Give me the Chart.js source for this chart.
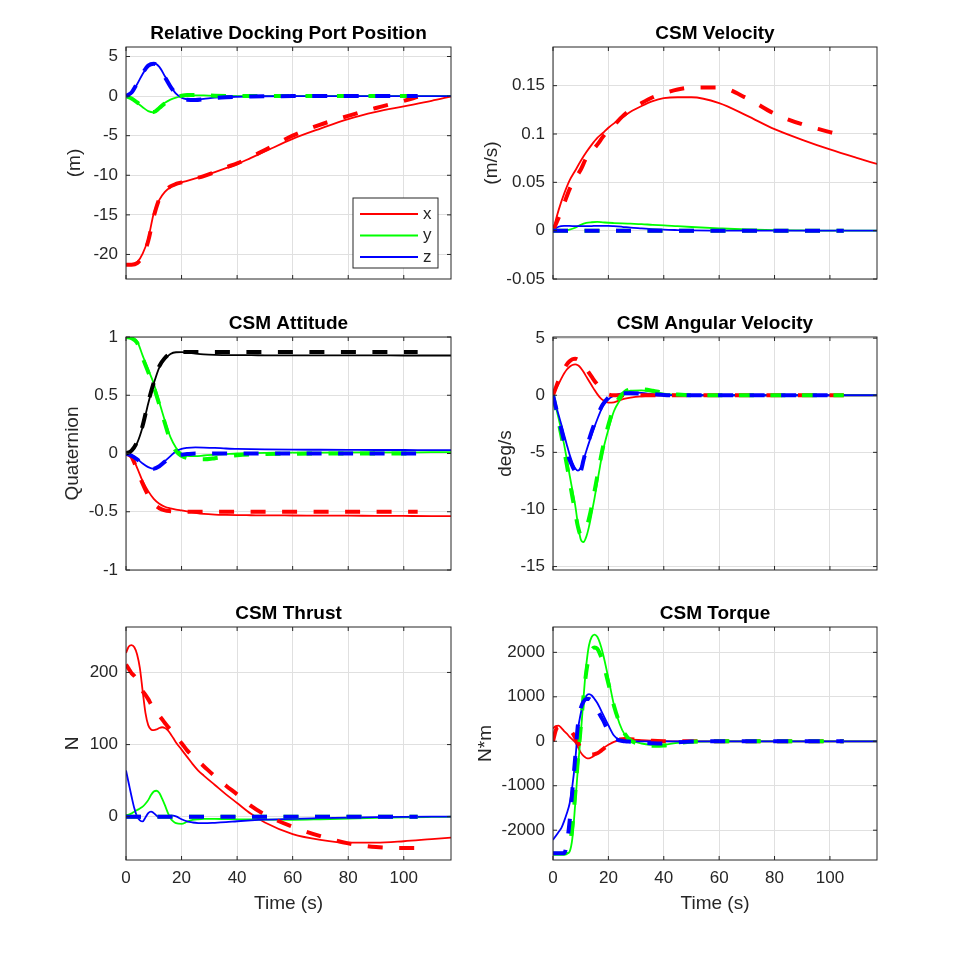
<!DOCTYPE html>
<html>
<head>
<meta charset="utf-8">
<script src="https://cdn.jsdelivr.net/npm/chart.js@4.4.1/dist/chart.umd.min.js"></script>
<style>
body{margin:0;background:#fff}
#wrap{position:relative;width:969px;height:967px;overflow:hidden}
</style>
</head>
<body>
<div id="wrap"></div>
<script>
// time bases (s): solid runs to 117, dashed runs to 105
var tS=[0,2,4,6,8,10,12,14,16,18,20,22,25,28,32,36,40,45,50,60,70,80,90,100,110,117]
var tD=[0,2,4,6,8,10,12,14,16,18,20,22,25,28,32,36,40,45,50,60,70,80,90,100,105]
var tF=[0,1,2,3,4,5,6,7,8,9,10,11,12,13,14,15,16,17,18,20,22,24,26,28,32,36,40,45,50,60,70,80,90,100,110,117]
var tFD=[0,1,2,3,4,5,6,7,8,9,10,11,12,13,14,15,16,17,18,20,22,24,26,28,32,36,40,45,50,60,70,80,90,100,105]
var xTicks=[0,20,40,60,80,100]

// Relative Docking Port Position (m)
var posX=[-21.3,-21.3,-21.0,-19.9,-18.0,-14.8,-13.1,-12.1,-11.5,-11.2,-10.9,-10.7,-10.4,-10.1,-9.6,-9.1,-8.6,-7.8,-7.0,-5.4,-4.1,-2.9,-2.0,-1.3,-0.6,-0.05]
var posY=[0,-0.35,-0.85,-1.4,-1.9,-2.05,-1.4,-0.85,-0.45,-0.2,-0.05,0.05,0.1,0.08,0.04,0.02,0,0,0,0,0,0,0,0,0,0]
var posZ=[0,0.4,1.5,2.8,3.8,4.15,3.7,2.5,1.3,0.3,-0.2,-0.4,-0.45,-0.35,-0.2,-0.12,-0.08,-0.05,-0.02,0,0,0,0,0,0,0]
var posXd=[-21.3,-21.3,-21.1,-20.2,-18.3,-15.2,-13.0,-12.0,-11.4,-11.1,-10.9,-10.7,-10.4,-10.1,-9.6,-9.0,-8.5,-7.7,-6.8,-5.0,-3.6,-2.5,-1.5,-0.6,-0.1]
var posYd=[0,-0.3,-0.8,-1.35,-1.85,-2.0,-1.5,-0.9,-0.45,-0.15,0.05,0.15,0.15,0.1,0.05,0.02,0,0,0,0,0,0,0,0,0]
var posZd=[0,0.45,1.6,2.9,3.85,4.1,3.6,2.4,1.2,0.3,-0.25,-0.45,-0.5,-0.4,-0.25,-0.15,-0.08,-0.04,-0.02,0,0,0,0,0,0]
var posTicks=[-20,-15,-10,-5,0,5]

// CSM Velocity (m/s)
var velX=[0,0.021,0.038,0.052,0.062,0.072,0.081,0.089,0.096,0.101,0.1065,0.111,0.117,0.123,0.129,0.134,0.137,0.138,0.138,0.132,0.119,0.105,0.094,0.084,0.075,0.069]
var velY=[0,0,0,0.001,0.003,0.006,0.008,0.0087,0.009,0.0086,0.0082,0.0079,0.0075,0.0072,0.0068,0.006,0.0055,0.0046,0.0038,0.0024,0.0012,0.0005,0.0002,0,0,0]
var velZ=[0,0.004,0.005,0.0049,0.0047,0.0046,0.0046,0.0048,0.005,0.005,0.005,0.0047,0.004,0.0032,0.0024,0.0016,0.001,0.0006,0.0003,0.0001,0,0,0,0,0,0]
var velXd=[0,0.013,0.028,0.043,0.054,0.063,0.075,0.082,0.089,0.097,0.104,0.109,0.118,0.125,0.132,0.138,0.142,0.146,0.148,0.148,0.137,0.121,0.11,0.102,0.098]
var velYd=[0,0,0,0,0,0,0,0,0,0,0,0,0,0,0,0,0,0,0,0,0,0,0,0,0]
var velZd=[0,0,0,0,0,0,0,0,0,0,0,0,0,0,0,0,0,0,0,0,0,0,0,0,0]
var velTicks=[-0.05,0,0.05,0.1,0.15]

// CSM Attitude (quaternion)
var attX=[0,-0.023,-0.123,-0.237,-0.323,-0.389,-0.431,-0.457,-0.471,-0.481,-0.489,-0.497,-0.509,-0.518,-0.524,-0.527,-0.529,-0.53,-0.531,-0.532,-0.533,-0.534,-0.535,-0.536,-0.537,-0.537]
var attY=[1,0.994,0.963,0.84,0.72,0.6,0.44,0.28,0.14,0.05,0,-0.02,-0.023,-0.017,-0.01,-0.005,0,0.003,0.005,0.007,0.008,0.009,0.01,0.01,0.011,0.011]
var attZ=[0,-0.014,-0.046,-0.086,-0.117,-0.131,-0.109,-0.066,-0.023,0.02,0.04,0.048,0.052,0.051,0.048,0.043,0.04,0.037,0.035,0.033,0.032,0.031,0.03,0.03,0.029,0.029]
var attW=[0,0.02,0.09,0.23,0.43,0.6,0.74,0.81,0.854,0.869,0.87,0.866,0.857,0.85,0.846,0.845,0.844,0.844,0.843,0.843,0.842,0.842,0.842,0.841,0.841,0.841]
var attXd=[0,-0.03,-0.14,-0.26,-0.36,-0.43,-0.47,-0.488,-0.495,-0.499,-0.5,-0.5,-0.5,-0.5,-0.5,-0.5,-0.5,-0.5,-0.5,-0.5,-0.5,-0.5,-0.5,-0.5,-0.5]
var attYd=[1,0.99,0.95,0.82,0.7,0.57,0.42,0.26,0.11,0.02,-0.02,-0.04,-0.05,-0.05,-0.04,-0.025,-0.015,-0.008,-0.005,-0.002,0,0,0,0,0]
var attZd=[0,-0.02,-0.05,-0.09,-0.12,-0.13,-0.11,-0.07,-0.035,-0.015,-0.01,-0.005,0,0,0,0,0,0,0,0,0,0,0,0,0]
var attWd=[0,0.025,0.1,0.24,0.44,0.61,0.75,0.82,0.86,0.87,0.871,0.871,0.871,0.871,0.871,0.871,0.871,0.871,0.871,0.871,0.871,0.871,0.871,0.871,0.871]
var attTicks=[-1,-0.5,0,0.5,1]

// CSM Angular Velocity (deg/s)
var angX=[0,0.5,0.97,1.45,1.9,2.25,2.5,2.65,2.7,2.62,2.4,2.05,1.65,1.25,0.85,0.45,0.1,-0.2,-0.42,-0.65,-0.62,-0.45,-0.3,-0.2,-0.09,-0.04,-0.01,0,0,0,0,0,0,0,0,0]
var angY=[0,-1.0,-2.0,-3.1,-4.3,-5.6,-7.0,-8.3,-9.6,-11.3,-12.6,-12.85,-12.4,-11.5,-10.3,-9.0,-7.6,-6.2,-4.9,-3.0,-1.4,-0.5,0.15,0.4,0.42,0.3,0.15,0.04,0,0,0,0,0,0,0,0]
var angZ=[0,-0.85,-1.7,-2.55,-3.45,-4.35,-5.2,-5.9,-6.4,-6.6,-6.35,-5.7,-4.9,-4.15,-3.45,-2.75,-2.1,-1.5,-0.95,-0.35,-0.05,0.12,0.2,0.25,0.2,0.1,0.03,0,0,0,0,0,0,0,0,0]
var angXd=[0,0.65,1.3,1.85,2.3,2.7,2.98,3.15,3.2,3.12,2.9,2.6,2.3,1.95,1.6,1.25,0.95,0.65,0.4,0.08,0,0,0,0,0,0,0,0,0,0,0,0,0,0,0]
var angYd=[0,-1.1,-2.3,-3.5,-4.8,-6.1,-7.5,-8.9,-10.2,-11.5,-12.2,-12.1,-11.6,-10.8,-9.7,-8.4,-7.1,-5.8,-4.6,-2.6,-1.1,-0.2,0.3,0.5,0.52,0.4,0.2,0.06,0,0,0,0,0,0,0]
var angZd=[0,-1.0,-2.0,-3.0,-4.0,-4.9,-5.65,-6.2,-6.7,-7.2,-6.7,-5.7,-4.75,-3.9,-3.15,-2.45,-1.8,-1.25,-0.8,-0.2,0.08,0.15,0.18,0.18,0.15,0.1,0.03,0,0,0,0,0,0,0,0]
var angTicks=[-15,-10,-5,0,5]

// CSM Thrust (N)
var thrX=[227,236,238,235,225,206,174,144,127,121,120,121,123,124,123,120,115,109,103,93,83,73,64,57,44,31,19,4,-8,-24,-32,-36,-36,-34,-31,-29]
var thrY=[2.3,3,4.6,7,9.3,11.5,14,18,23,30,35,36,33,25,16,6,-2,-6.5,-9,-10,-7,-4.5,-3.5,-3,-3,-3.3,-3.6,-3.8,-4,-4.2,-3.5,-2.5,-1.5,-0.8,-0.3,0]
var thrZ=[64,46,28,11.6,0,-5,-6.5,-1,5,7,5,1.5,-1,-0.5,0,1,1.4,1.4,0.5,-3.5,-6.5,-8,-8.8,-9,-8.4,-7.5,-6.3,-5,-4,-3,-2,-1.2,-0.6,-0.2,0,0]
var thrXd=[211,205,199,195,190,182,174,169,163,156,150,145,140,135,130,125,121,116,111,102,92,84,77,70,56,43,31,15,3,-14,-27,-37,-42,-43.5,-43.5]
var thrYd=[0,0,0,0,0,0,0,0,0,0,0,0,0,0,0,0,0,0,0,0,0,0,0,0,0,0,0,0,0,0,0,0,0,0,0]
var thrZd=[0,0,0,0,0,0,0,0,0,0,0,0,0,0,0,0,0,0,0,0,0,0,0,0,0,0,0,0,0,0,0,0,0,0,0]
var thrTicks=[0,100,200]

// CSM Torque (N*m)
var torX=[290,340,350,300,230,170,100,40,-20,-130,-250,-330,-375,-385,-360,-320,-275,-220,-165,-80,-15,20,35,35,25,12,5,0,0,0,0,0,0,0,0,0]
var torY=[-2530,-2530,-2530,-2530,-2530,-2525,-2480,-2180,-1430,-600,140,960,1700,2160,2350,2400,2350,2200,1980,1420,820,400,140,30,-50,-80,-75,-35,-10,0,0,0,0,0,0,0]
var torZ=[-2217,-2130,-2040,-1955,-1800,-1620,-1400,-1000,-450,250,620,880,1020,1060,1030,950,860,740,610,360,130,30,5,0,0,0,0,0,0,0,0,0,0,0,0,0]
var torXd=[0,250,320,300,290,290,260,190,80,-40,-150,-230,-280,-300,-300,-290,-270,-230,-180,-80,0,40,50,45,25,10,3,0,0,0,0,0,0,0,0]
var torYd=[-2530,-2530,-2530,-2530,-2530,-2500,-2350,-1900,-1200,-400,300,1000,1550,1900,2060,2110,2080,1960,1780,1300,800,420,160,20,-70,-100,-95,-40,-10,0,0,0,0,0,0]
var torZd=[-2520,-2520,-2520,-2520,-2520,-2300,-1800,-1100,-380,370,740,890,950,950,905,810,700,590,480,230,80,20,0,-10,-30,-45,-50,-25,-5,0,0,0,0,0,0]
var torTicks=[-2000,-1000,0,1000,2000]

var RED='#ff0000', GREEN='#00ff00', BLUE='#0000ff', BLACK='#000000'
var F='"Liberation Sans", Arial, Helvetica, sans-serif'
var TXT='#262626', GRID='#e0e0e0'

// page geometry (MATLAB subplot boxes)
var colCanvas=[0,470], colCanvasW=[470,499]
var colLeft=[126,553], colRight=[451,877]
var rowTop=[47,337,627], rowBottom=[279,570,860]

function pts(t,v){
    return t.map(function(x,i){ return {x:x,y:v[i]} })
}

function line(t,v,color,dashed,label){
    return {
        label:label||'',
        data:pts(t,v),
        borderColor:color,
        borderWidth:dashed?4:1.8,
        borderDash:dashed?[15,16.5]:[],
        borderCapStyle:'butt',
        pointRadius:0,
        fill:false,
        cubicInterpolationMode:'monotone'
    }
}

// box round the plot area with inward ticks on all four sides
var boxPlugin={
    id:'box',
    afterDraw:function(c){
        var a=c.chartArea, ctx=c.ctx, xs=c.scales.x, ys=c.scales.y
        ctx.save()
        ctx.strokeStyle=TXT
        ctx.lineWidth=1
        ctx.strokeRect(a.left,a.top,a.right-a.left,a.bottom-a.top)
        ctx.beginPath()
        xs.ticks.forEach(function(t){
            var p=xs.getPixelForValue(t.value)
            ctx.moveTo(p,a.bottom); ctx.lineTo(p,a.bottom-4)
            ctx.moveTo(p,a.top); ctx.lineTo(p,a.top+4)
        })
        ys.ticks.forEach(function(t){
            var p=ys.getPixelForValue(t.value)
            ctx.moveTo(a.left,p); ctx.lineTo(a.left+4,p)
            ctx.moveTo(a.right,p); ctx.lineTo(a.right-4,p)
        })
        ctx.stroke()
        ctx.restore()
    }
}

// legend box inside the first plot (bottom right corner)
var legendPlugin={
    id:'inlegend',
    afterDraw:function(c){
        var a=c.chartArea, ctx=c.ctx, w=85, h=70
        var x0=a.right-13-w, y0=a.bottom-11-h
        ctx.save()
        ctx.fillStyle='#fff'
        ctx.fillRect(x0,y0,w,h)
        ctx.strokeStyle=TXT
        ctx.lineWidth=1
        ctx.strokeRect(x0,y0,w,h)
        ctx.font='17px '+F
        ctx.textBaseline='middle'
        ctx.textAlign='left'
        c.data.datasets.slice(0,3).forEach(function(d,i){
            var y=y0+16+i*21.5
            ctx.strokeStyle=d.borderColor
            ctx.lineWidth=d.borderWidth
            ctx.beginPath(); ctx.moveTo(x0+7,y); ctx.lineTo(x0+65,y); ctx.stroke()
            ctx.fillStyle=TXT
            ctx.fillText(d.label,x0+70,y)
        })
        ctx.restore()
    }
}

var panels=[
    {col:0,row:0,title:'Relative Docking Port Position',ylabel:'(m)',labelX:75,min:-23.1,max:6.2,ticks:posTicks,legend:true,
     sets:[line(tS,posX,RED,false,'x'),line(tS,posY,GREEN,false,'y'),line(tS,posZ,BLUE,false,'z'),
           line(tD,posXd,RED,true),line(tD,posYd,GREEN,true),line(tD,posZd,BLUE,true)]},
    {col:1,row:0,title:'CSM Velocity',ylabel:'(m/s)',labelX:492,min:-0.05,max:0.19,ticks:velTicks,
     sets:[line(tS,velX,RED,false),line(tS,velY,GREEN,false),line(tS,velZ,BLUE,false),
           line(tD,velXd,RED,true),line(tD,velYd,GREEN,true),line(tD,velZd,BLUE,true)]},
    {col:0,row:1,title:'CSM Attitude',ylabel:'Quaternion',labelX:73,min:-1,max:1,ticks:attTicks,
     sets:[line(tS,attX,RED,false),line(tS,attY,GREEN,false),line(tS,attZ,BLUE,false),line(tS,attW,BLACK,false),
           line(tD,attXd,RED,true),line(tD,attYd,GREEN,true),line(tD,attZd,BLUE,true),line(tD,attWd,BLACK,true)]},
    {col:1,row:1,title:'CSM Angular Velocity',ylabel:'deg/s',labelX:506,min:-15.3,max:5.1,ticks:angTicks,
     sets:[line(tF,angX,RED,false),line(tF,angY,GREEN,false),line(tF,angZ,BLUE,false),
           line(tFD,angXd,RED,true),line(tFD,angYd,GREEN,true),line(tFD,angZd,BLUE,true)]},
    {col:0,row:2,title:'CSM Thrust',ylabel:'N',labelX:73,min:-60,max:263,ticks:thrTicks,
     sets:[line(tF,thrX,RED,false),line(tF,thrY,GREEN,false),line(tF,thrZ,BLUE,false),
           line(tFD,thrXd,RED,true),line(tFD,thrYd,GREEN,true),line(tFD,thrZd,BLUE,true)]},
    {col:1,row:2,title:'CSM Torque',ylabel:'N*m',labelX:486,min:-2670,max:2570,ticks:torTicks,
     sets:[line(tF,torX,RED,false),line(tF,torY,GREEN,false),line(tF,torZ,BLUE,false),
           line(tFD,torXd,RED,true),line(tFD,torYd,GREEN,true),line(tFD,torZd,BLUE,true)]}
]

var wrap=document.getElementById('wrap')

panels.forEach(function(p){
    var bottom=p.row===2
    var cl=colCanvas[p.col], cw=colCanvasW[p.col]
    var plotL=colLeft[p.col]-cl, plotR=colRight[p.col]-cl
    var h=rowBottom[p.row]-rowTop[p.row]
    var xh=bottom?56:0, padB=bottom?2:14
    var padL=p.labelX-cl-11.4
    var ch=40+h+xh+padB

    var cv=document.createElement('canvas')
    cv.width=cw; cv.height=ch
    cv.style.position='absolute'
    cv.style.left=cl+'px'
    cv.style.top=(rowTop[p.row]-40)+'px'
    wrap.appendChild(cv)

    // later series are drawn on top, as in the original plot
    p.sets.forEach(function(d,i){ d.order=-i })

    new Chart(cv.getContext('2d'),{
        type:'line',
        data:{datasets:p.sets},
        plugins:p.legend?[boxPlugin,legendPlugin]:[boxPlugin],
        options:{
            responsive:false,
            animation:false,
            events:[],
            layout:{padding:{left:padL,right:cw-plotR,top:15.6,bottom:padB}},
            plugins:{
                legend:{display:false},
                tooltip:{enabled:false},
                title:{display:true,text:p.title,color:'#000',fullSize:false,
                       font:{family:F,size:19,weight:'bold'},padding:{top:0,bottom:1.6}}
            },
            scales:{
                x:{
                    type:'linear',min:0,max:117,
                    afterBuildTicks:function(s){ s.ticks=xTicks.map(function(v){return {value:v}}) },
                    afterFit:function(s){ s.height=xh; s.paddingLeft=0; s.paddingRight=0 },
                    grid:{color:GRID,drawTicks:false},
                    border:{display:false},
                    ticks:{display:bottom,padding:8.5,color:TXT,maxRotation:0,autoSkip:false,
                           font:{family:F,size:17},callback:function(v){return String(v)}},
                    title:{display:bottom,text:'Time (s)',color:TXT,font:{family:F,size:19},padding:{top:0,bottom:1.3}}
                },
                y:{
                    type:'linear',min:p.min,max:p.max,
                    afterBuildTicks:function(s){ s.ticks=p.ticks.map(function(v){return {value:v}}) },
                    afterFit:function(s){ s.width=plotL-padL; s.paddingTop=0; s.paddingBottom=0 },
                    grid:{color:GRID,drawTicks:false},
                    border:{display:false},
                    ticks:{padding:8,color:TXT,font:{family:F,size:17},callback:function(v){return String(v)}},
                    title:{display:true,text:p.ylabel,color:TXT,font:{family:F,size:19},padding:{top:0,bottom:0}}
                }
            }
        }
    })
})
</script>
</body>
</html>
